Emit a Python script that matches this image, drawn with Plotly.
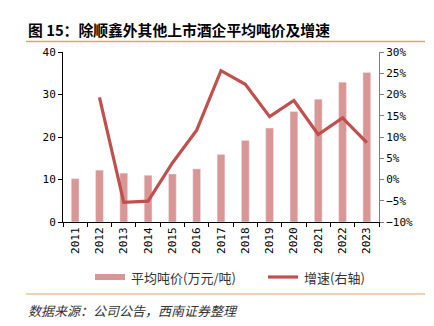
import plotly.graph_objects as go

years = ["2011", "2012", "2013", "2014", "2015", "2016", "2017",
         "2018", "2019", "2020", "2021", "2022", "2023"]
avg_price = [10.2, 12.2, 11.5, 11.0, 11.3, 12.5, 15.9,
             19.2, 22.1, 26.0, 28.9, 32.9, 35.2]
growth = [None, 0.193, -0.054, -0.051, 0.039, 0.116, 0.256,
          0.224, 0.148, 0.186, 0.106, 0.145, 0.087]

BAR_COLOR = "#D99694"
LINE_COLOR = "#C0504D"
ORANGE = "#E2A55B"
TICK_FONT = dict(family="DejaVu Sans Mono", size=11, color="#000000")

# plot area in pixels
W, H = 434, 326
L, R, T, B = 63, 379, 52, 222


def px(x):
    return (x - L) / (R - L)


def py(y):
    return (B - y) / (B - T)


fig = go.Figure()
fig.add_trace(go.Bar(x=years, y=avg_price, marker_color=BAR_COLOR,
                     width=0.32, name="平均吨价(万元/吨)", yaxis="y"))
fig.add_trace(go.Scatter(x=years, y=growth, mode="lines",
                         line=dict(color=LINE_COLOR, width=3.2),
                         name="增速(右轴)", yaxis="y2"))

shapes = [
    dict(type="line", xref="paper", yref="paper", x0=px(26), x1=px(425),
         y0=py(41.5), y1=py(41.5), line=dict(color=ORANGE, width=1.5)),
    dict(type="line", xref="paper", yref="paper", x0=px(26), x1=px(425),
         y0=py(294), y1=py(294), line=dict(color=ORANGE, width=1.2)),
    # legend keys
    dict(type="rect", xref="paper", yref="paper", x0=px(95), x1=px(125),
         y0=py(280), y1=py(274), fillcolor=BAR_COLOR, line=dict(width=0)),
    dict(type="line", xref="paper", yref="paper", x0=px(268), x1=px(298),
         y0=py(277), y1=py(277), line=dict(color=LINE_COLOR, width=3.2)),
]

annotations = [
    dict(text="<b>图 15：除顺鑫外其他上市酒企平均吨价及增速</b>", xref="paper", yref="paper",
         x=px(26), y=py(29), xanchor="left", yanchor="middle", showarrow=False,
         font=dict(family="Noto Sans CJK SC", size=14.8, color="#000000")),
    dict(text="平均吨价(万元/吨)", xref="paper", yref="paper",
         x=px(129), y=py(277), xanchor="left", yanchor="middle", showarrow=False,
         font=dict(family="Noto Sans CJK SC", size=13, color="#333333")),
    dict(text="增速(右轴)", xref="paper", yref="paper",
         x=px(302), y=py(277), xanchor="left", yanchor="middle", showarrow=False,
         font=dict(family="Noto Sans CJK SC", size=13, color="#333333")),
    dict(text="<i>数据来源：公司公告，西南证券整理</i>", xref="paper", yref="paper",
         x=px(26), y=py(310), xanchor="left", yanchor="middle", showarrow=False,
         font=dict(family="Noto Sans CJK SC", size=13, color="#333333")),
]

fig.update_layout(
    width=W, height=H,
    margin=dict(l=L, r=W - R, t=T, b=H - B, pad=0),
    paper_bgcolor="white", plot_bgcolor="white",
    showlegend=False,
    bargap=0.68,
    shapes=shapes,
    annotations=annotations,
    xaxis=dict(
        type="category", tickangle=-90, tickfont=TICK_FONT,
        showline=True, linecolor="#000000", linewidth=1,
        ticks="outside", ticklen=4, tickcolor="#000000",
        tickson="boundaries", showgrid=False, zeroline=False,
        range=[-0.5, 12.5],
    ),
    yaxis=dict(
        range=[0, 40], dtick=10, tickfont=TICK_FONT,
        showline=True, linecolor="#000000", linewidth=1,
        ticks="outside", ticklen=4, tickcolor="#000000",
        showgrid=False, zeroline=False,
    ),
    yaxis2=dict(
        range=[-0.10, 0.30], dtick=0.05, tickformat=".0%", tickfont=TICK_FONT,
        overlaying="y", side="right",
        showline=True, linecolor="#808080", linewidth=1,
        ticks="outside", ticklen=4, tickcolor="#808080",
        showgrid=False, zeroline=False,
    ),
)

fig.write_html("out.html")
